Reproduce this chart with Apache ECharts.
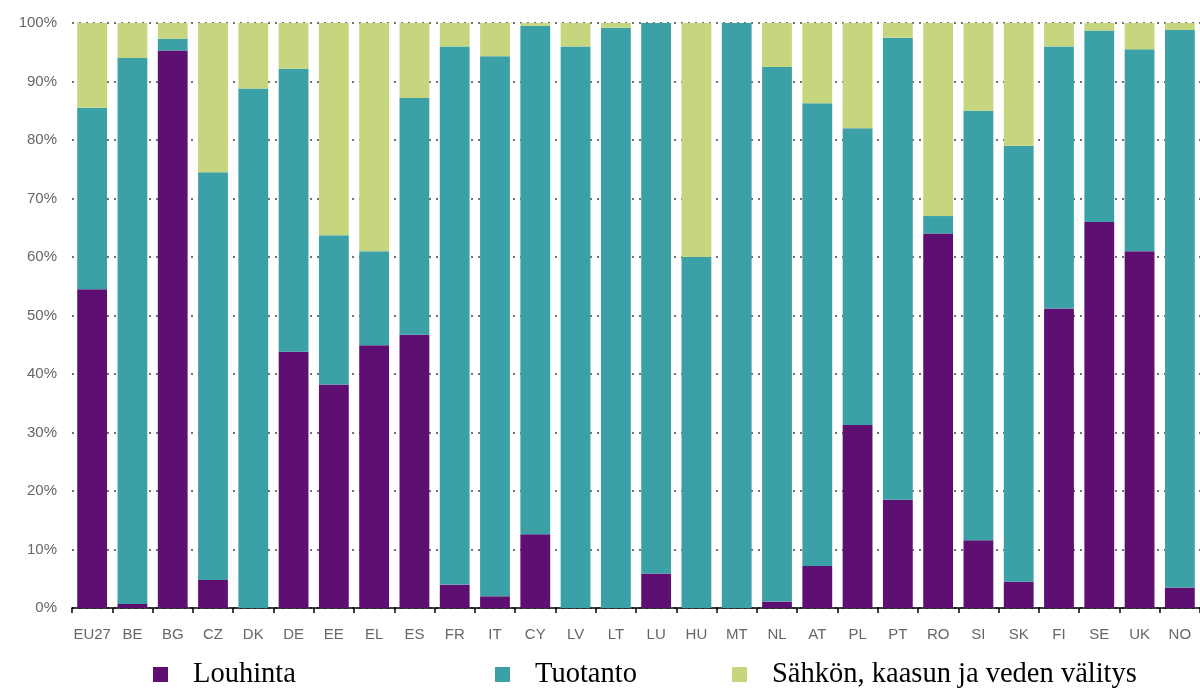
<!DOCTYPE html>
<html>
<head>
<meta charset="utf-8">
<script src="https://cdn.jsdelivr.net/npm/echarts@6/dist/echarts.min.js"></script>
<style>
html, body { margin: 0; padding: 0; background: #fff; }
#chart { width: 1200px; height: 689px; }
</style>
</head>
<body>
<div id="chart"></div>
<script>
// maat
var countries = ['EU27', 'BE', 'BG', 'CZ', 'DK', 'DE', 'EE', 'EL', 'ES', 'FR', 'IT', 'CY', 'LV', 'LT',
	'LU', 'HU', 'MT', 'NL', 'AT', 'PL', 'PT', 'RO', 'SI', 'SK', 'FI', 'SE', 'UK', 'NO'];

// osuudet (%)
var louhinta = [54.5, 0.7, 95.3, 4.8, 0, 43.8, 38.2, 44.9, 46.7, 4, 2, 12.6, 0, 0,
	5.9, 0, 0, 1.1, 7.2, 31.3, 18.5, 64, 11.6, 4.5, 51.2, 66, 61, 3.5];
var tuotanto = [31, 93.3, 2, 69.7, 88.8, 48.4, 25.5, 16.1, 40.5, 92, 92.3, 86.9, 96, 99.2,
	94.1, 60, 100, 91.4, 79.1, 50.7, 79, 3, 73.4, 74.5, 44.8, 32.7, 34.5, 95.3];
var valitys = [14.5, 6, 2.7, 25.5, 11.2, 7.8, 36.3, 39, 12.8, 4, 5.7, 0.5, 4, 0.8,
	0, 40, 0, 7.5, 13.7, 18, 2.5, 33, 15, 21, 4, 1.3, 4.5, 1.2];

var yTicks = [0, 10, 20, 30, 40, 50, 60, 70, 80, 90, 100];

var names = ['Louhinta', 'Tuotanto', 'Sähkön, kaasun ja veden välitys'];
var colors = ['#5d0f72', '#3ba1a6', '#c6d67e'];

function legendAt(name, left) {
	return {
		data: [name],
		left: left,
		top: 655,
		itemWidth: 15,
		itemHeight: 15,
		icon: 'rect',
		textStyle: { fontFamily: 'Liberation Serif', fontSize: 28.5, color: '#000', padding: [0, 0, 0, 20] }
	};
}

function barSeries(i, data) {
	return {
		name: names[i], type: 'bar', stack: 'a', data: data,
		barCategoryGap: '26%',
		itemStyle: { borderWidth: 0 }
	};
}

var chart = echarts.init(document.getElementById('chart'));
chart.setOption({
	animation: false,
	color: colors,
	grid: { left: 72, top: 23, width: 28 * 40.5, height: 585 },
	legend: [legendAt(names[0], 148), legendAt(names[1], 490), legendAt(names[2], 727)],
	xAxis: {
		type: 'category',
		data: countries,
		axisLine: { lineStyle: { color: '#000', width: 1.5 } },
		axisTick: { show: true, length: 5, lineStyle: { color: '#000', width: 1.5 } },
		axisLabel: { color: '#666', fontSize: 15, fontFamily: 'Liberation Sans', margin: 19, interval: 0 }
	},
	yAxis: {
		type: 'value',
		min: 0,
		max: 100,
		interval: 10,
		axisLine: { show: false },
		axisTick: { show: false },
		axisLabel: {
			color: '#666', fontSize: 15, fontFamily: 'Liberation Sans', margin: 15,
			formatter: function(v) { return yTicks.indexOf(v) >= 0 ? v + '%' : ''; }
		},
		splitLine: { show: true, lineStyle: { color: '#444', type: [2, 5], width: 1.5 } }
	},
	series: [barSeries(0, louhinta), barSeries(1, tuotanto), barSeries(2, valitys)]
});
</script>
</body>
</html>
